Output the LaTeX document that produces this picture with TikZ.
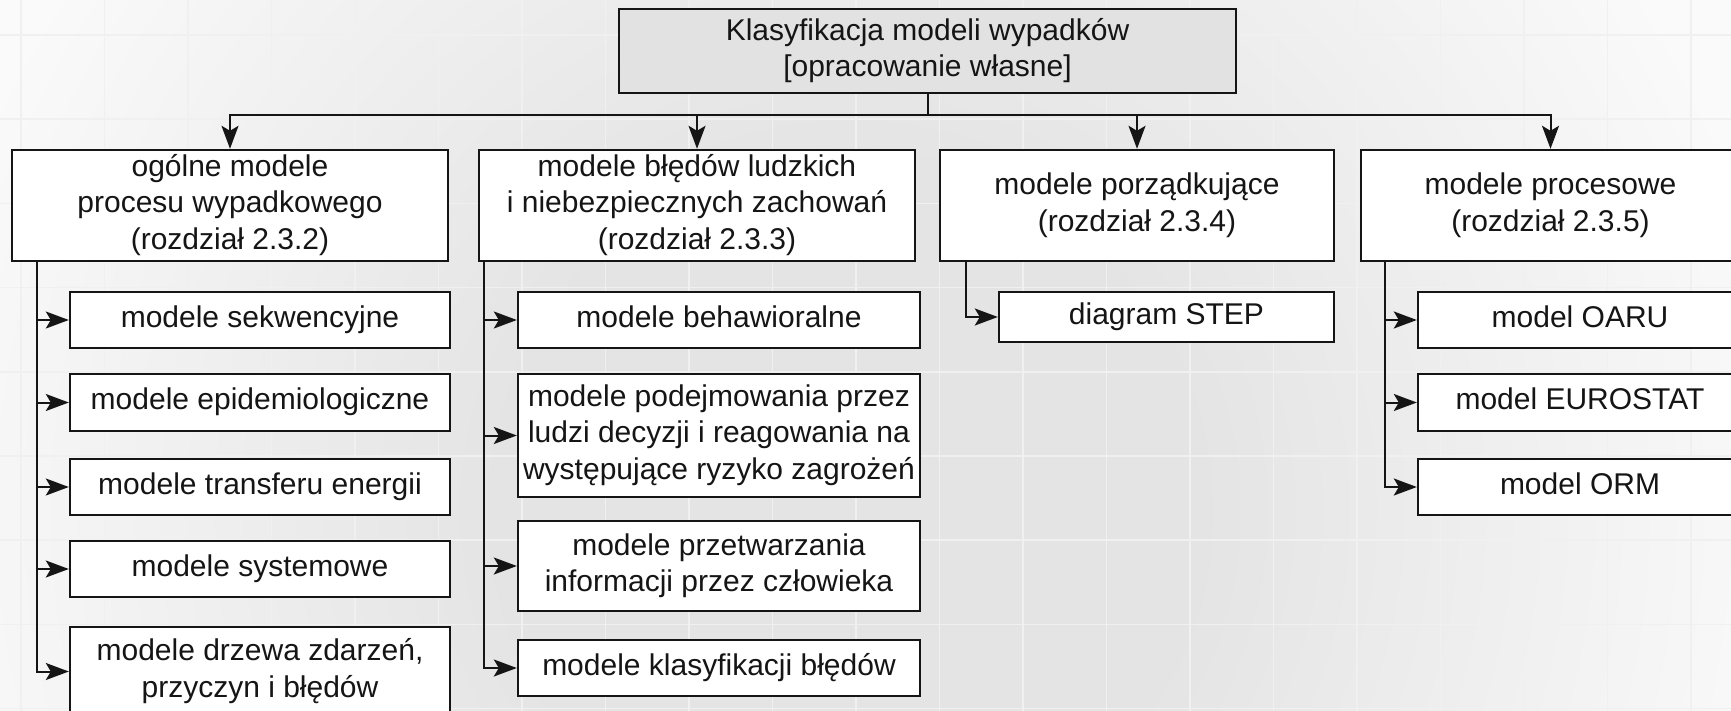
\documentclass[tikz,border=0pt]{standalone}
\usepackage{fontspec}
\setmainfont{Liberation Sans}
\usetikzlibrary{arrows.meta}

\definecolor{bgin}{HTML}{E4E4E4}
\definecolor{bgout}{HTML}{FAFAFA}
\definecolor{gridc}{HTML}{F0F0F0}
\definecolor{ink}{HTML}{151515}
\definecolor{headfill}{HTML}{E2E2E2}

% soft backdrop: darker in the middle, fading out towards the rim (25bp = path edge)
\pgfdeclareradialshading{backdrop}{\pgfpoint{0bp}{0bp}}{color(0bp)=(bgin); color(9.2bp)=(bgin); color(25bp)=(bgout); color(50bp)=(bgout)}

\tikzset{
  box/.style={draw=ink, line width=2.4pt, fill=white, rectangle, inner sep=0pt,
    align=center, font=\fontsize{30}{36.5}\selectfont, text=ink},
  head/.style={box, fill=headfill},
  link/.style={draw=ink, line width=2pt, -{Stealth[length=23pt,width=17pt,inset=5pt]}},
  gridline/.style={draw=gridc, line width=1.6pt},
}

\begin{document}
\begin{tikzpicture}[x=1pt,y=-1pt]
\useasboundingbox (0,0) rectangle (1731,711);
\clip (0,0) rectangle (1731,711);

% background and grid
\fill[bgout] (0,0) rectangle (1731,711);
\shade[shading=backdrop] (850,510) circle[radius=950];
\foreach \k in {0,...,20} \draw[gridline] ({21+83.5*\k},0) -- ({21+83.5*\k},711);
\foreach \k in {0,...,8} \draw[gridline] (0,{35+84.2*\k}) -- (1731,{35+84.2*\k});

% root
\node[head, minimum width=617pt, minimum height=84pt] (root) at (927.5,51)
  {\strut Klasyfikacja modeli wypadków\\\strut{[opracowanie własne]}};

% main groups
\node[box, minimum width=436pt, minimum height=111pt] (gen) at (230,205.5)
  {\strut ogólne modele\\\strut procesu wypadkowego\\\strut (rozdział 2.3.2)};
\node[box, minimum width=436pt, minimum height=111pt] (hum) at (697,205.5)
  {\strut modele błędów ludzkich\\\strut i niebezpiecznych zachowań\\\strut (rozdział 2.3.3)};
\node[box, minimum width=394pt, minimum height=111pt] (ord) at (1137,205.5)
  {\strut modele porządkujące\\\strut (rozdział 2.3.4)};
\node[box, minimum width=379pt, minimum height=111pt] (proc) at (1550.5,205.5)
  {\strut modele procesowe\\\strut (rozdział 2.3.5)};

% general models
\node[box, minimum width=380pt, minimum height=56pt] (a1) at (260,320) {\strut modele sekwencyjne};
\node[box, minimum width=380pt, minimum height=57pt] (a2) at (260,402.5) {\strut modele epidemiologiczne};
\node[box, minimum width=380pt, minimum height=56pt] (a3) at (260,487) {\strut modele transferu energii};
\node[box, minimum width=380pt, minimum height=56pt] (a4) at (260,569) {\strut modele systemowe};
\node[box, minimum width=380pt, minimum height=89pt] (a5) at (260,671.5)
  {\strut modele drzewa zdarzeń,\\\strut przyczyn i błędów};

% human error models
\node[box, minimum width=402pt, minimum height=56pt] (b1) at (719,320) {\strut modele behawioralne};
\node[box, minimum width=402pt, minimum height=123pt] (b2) at (719,435.5)
  {\strut modele podejmowania przez\\\strut ludzi decyzji i reagowania na\\\strut występujące ryzyko zagrożeń};
\node[box, minimum width=402pt, minimum height=90pt] (b3) at (719,566)
  {\strut modele przetwarzania\\\strut informacji przez człowieka};
\node[box, minimum width=402pt, minimum height=56pt] (b4) at (719,668) {\strut modele klasyfikacji błędów};

% ordering models
\node[box, minimum width=335pt, minimum height=50pt] (c1) at (1166.5,317)
  {\raisebox{-2.5pt}{\strut diagram STEP}};

% process models
\node[box, minimum width=324pt, minimum height=56pt] (d1) at (1580,320) {\strut model OARU};
\node[box, minimum width=324pt, minimum height=57pt] (d2) at (1580,402.5) {\strut model EUROSTAT};
\node[box, minimum width=324pt, minimum height=56pt] (d3) at (1580,487) {\strut model ORM};

% connectors
\foreach \n in {gen,hum,ord,proc}
  \draw[link] (root.south) -- ++(0,20.5) -| (\n.north);
\foreach \n in {a1,a2,a3,a4,a5}
  \draw[link] ([xshift=26pt]gen.south west) |- (\n.west);
\foreach \n in {b1,b2,b3,b4}
  \draw[link] ([xshift=6pt]hum.south west) |- (\n.west);
\draw[link] ([xshift=27pt]ord.south west) |- (c1.west);
\foreach \n in {d1,d2,d3}
  \draw[link] ([xshift=25pt]proc.south west) |- (\n.west);
\end{tikzpicture}
\end{document}
